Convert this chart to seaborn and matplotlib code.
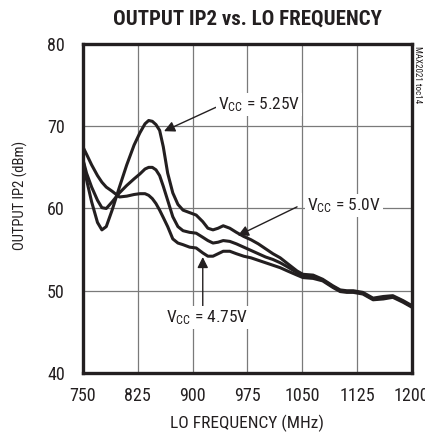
import numpy as np
import pandas as pd
import matplotlib
matplotlib.use("Agg")
import matplotlib.pyplot as plt
from matplotlib import font_manager
import seaborn as sns

# LO frequency points (MHz)
freq = [750, 755, 762, 770, 776, 782, 790, 800, 810, 820, 828, 835, 840, 845,
        850, 855, 860, 866, 873, 880, 887, 896, 905, 914, 921, 928, 935, 942,
        951, 960, 970, 980, 990, 1000, 1010, 1020, 1030, 1043, 1051, 1065,
        1078, 1092, 1102, 1111, 1120, 1133, 1147, 1161, 1174, 1188, 1200]

# output IP2 (dBm) per supply voltage
ip2_525 = [66.0, 63.5, 60.8, 58.3, 57.4, 57.8, 59.8, 62.6, 65.3, 67.7, 69.2,
           70.3, 70.7, 70.6, 70.2, 69.5, 67.5, 64.3, 61.9, 60.5, 59.8, 59.5,
           59.2, 58.4, 57.6, 57.4, 57.6, 57.9, 57.6, 57.1, 56.6, 56.2, 55.7,
           55.1, 54.5, 54.0, 53.3, 52.4, 52.0, 51.9, 51.4, 50.6, 50.1, 50.0,
           50.0, 49.8, 49.1, 49.3, 49.4, 48.8, 48.2]
ip2_500 = [66.0, 64.3, 62.6, 61.0, 60.1, 60.0, 60.8, 61.9, 62.8, 63.6, 64.2,
           64.8, 65.0, 65.0, 64.7, 64.0, 62.7, 61.0, 59.0, 57.8, 57.3, 57.1,
           57.0, 56.5, 56.1, 55.8, 55.9, 56.1, 56.0, 55.7, 55.3, 54.9, 54.5,
           54.1, 53.8, 53.4, 52.9, 52.2, 51.8, 51.7, 51.3, 50.5, 50.0, 49.9,
           49.9, 49.7, 49.0, 49.1, 49.3, 48.7, 48.1]
ip2_475 = [67.5, 66.6, 65.3, 64.0, 63.2, 62.6, 62.1, 61.4, 61.5, 61.7, 61.8,
           61.8, 61.6, 61.2, 60.6, 59.8, 58.9, 57.8, 56.3, 55.8, 55.6, 55.3,
           55.2, 54.6, 54.2, 54.2, 54.5, 54.8, 54.8, 54.5, 54.2, 54.0, 53.7,
           53.4, 53.1, 52.8, 52.4, 51.9, 51.6, 51.5, 51.2, 50.4, 49.9, 49.8,
           49.8, 49.6, 48.9, 49.0, 49.2, 48.6, 48.0]

x_ticks = [750, 825, 900, 975, 1050, 1125, 1200]
y_ticks = [40, 50, 60, 70, 80]

df = pd.DataFrame({
    "freq": freq * 3,
    "ip2": ip2_525 + ip2_500 + ip2_475,
    "vcc": ["5.25V"] * len(freq) + ["5.0V"] * len(freq) + ["4.75V"] * len(freq),
})

# pick a narrow sans if one is around, else plain Liberation Sans
installed = {f.name for f in font_manager.fontManager.ttflist}
narrow = None
for name in ["Liberation Sans Narrow", "Roboto Condensed", "Open Sans Condensed",
             "Noto Sans Condensed", "DejaVu Sans Condensed"]:
    if name in installed:
        narrow = name
        break
base = narrow or "Liberation Sans"
scale = 1.0 if narrow else 0.88

sns.set_style("white")
plt.rcParams["font.family"] = [base, "DejaVu Sans"]
plt.rcParams["mathtext.fontset"] = "custom"
plt.rcParams["mathtext.rm"] = base
plt.rcParams["mathtext.it"] = base

ink = "#231f20"
fig = plt.figure(figsize=(4.25, 4.34), dpi=100)
ax = fig.add_axes([0.195, 0.1406, 0.774, 0.758])

sns.lineplot(data=df, x="freq", y="ip2", units="vcc", estimator=None,
             color=ink, lw=2.2, sort=False, ax=ax)

ax.set_xlim(750, 1200)
ax.set_ylim(40, 80)
ax.set_xticks(x_ticks)
ax.set_yticks(y_ticks)
ax.grid(True, color="#7a7a7a", lw=0.9)
ax.set_axisbelow(True)
for s in ax.spines.values():
    s.set_linewidth(2.4)
    s.set_color(ink)
ax.tick_params(length=0, labelsize=13 * scale, colors=ink)
ax.tick_params(axis="y", pad=13)
ax.tick_params(axis="x", pad=10)
for lab in ax.get_yticklabels():
    lab.set_va("center_baseline")
ax.set_xlabel("LO FREQUENCY (MHz)", fontsize=12.5 * scale, color=ink, labelpad=7)
ax.set_ylabel("OUTPUT IP2 (dBm)", fontsize=10.5 * scale, color=ink)
ax.yaxis.set_label_coords(-0.167, 0.541)
ax.set_title("OUTPUT IP2 vs. LO FREQUENCY", fontsize=15 * scale,
             fontweight="bold", color=ink, pad=14)

box = dict(facecolor="white", edgecolor="none", pad=1.5)
arw = dict(arrowstyle="-|>", color=ink, lw=1.0, mutation_scale=16,
           shrinkA=0, shrinkB=0)
ax.annotate("", xy=(861, 69.4), xytext=(932, 72.3), arrowprops=arw)
ax.text(935, 72.6, "V$_{\\rm CC}$ = 5.25V", fontsize=12.5 * scale, color=ink,
        va="center", ha="left", bbox=box)
ax.annotate("", xy=(962, 56.7), xytext=(1043, 60.2), arrowprops=arw)
ax.text(1057, 60.4, "V$_{\\rm CC}$ = 5.0V", fontsize=12.5 * scale, color=ink,
        va="center", ha="left", bbox=box)
ax.annotate("", xy=(914, 54.1), xytext=(914, 48.0), arrowprops=arw)
ax.text(920, 46.7, "V$_{\\rm CC}$ = 4.75V", fontsize=12.5 * scale, color=ink,
        va="center", ha="center", bbox=box)

fig.text(0.983, 0.895, "MAX2021 toc14", rotation=270, fontsize=6.5,
         color=ink, ha="center", va="top")

fig.savefig("out.png", dpi=100)
